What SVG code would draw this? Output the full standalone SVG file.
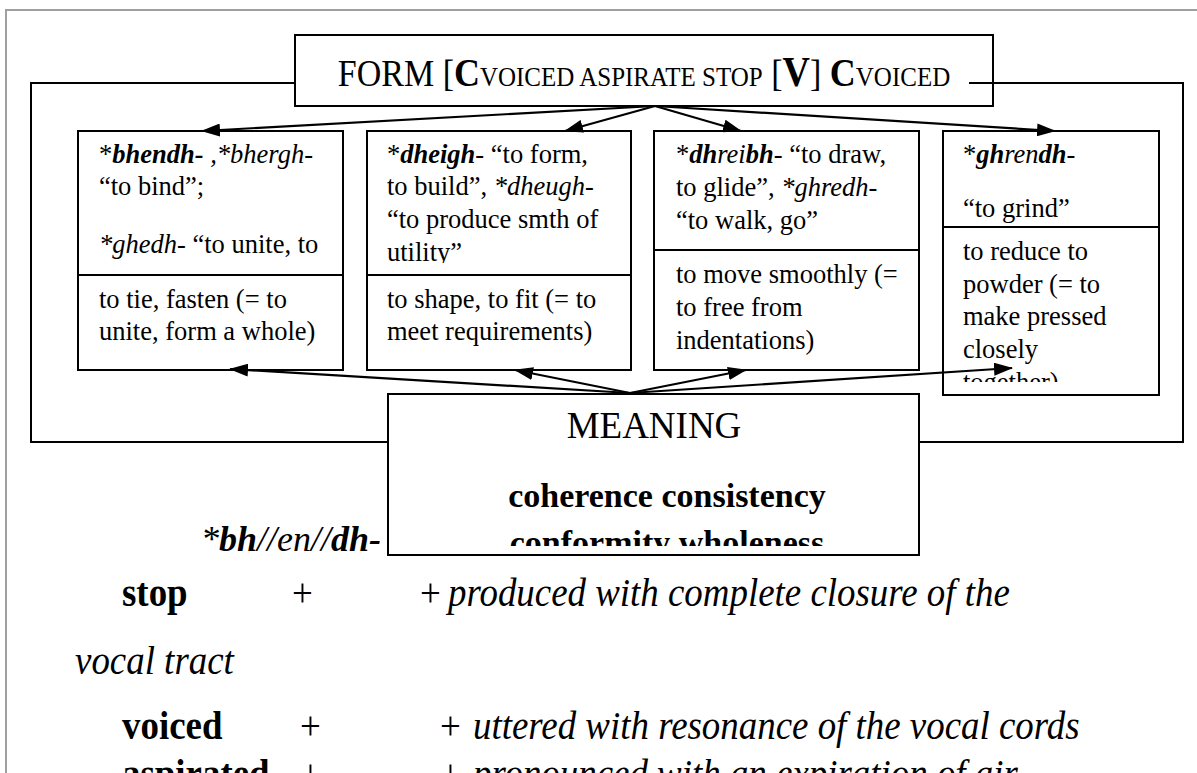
<svg xmlns="http://www.w3.org/2000/svg" width="1197" height="773" viewBox="0 0 1197 773">
  <style>
    .t { font-family: "Liberation Serif", "Times New Roman", serif; fill: #000; }
    .cell { font-size: 26.5px; }
    .box { fill: #fff; stroke: #000; stroke-width: 2; }
    .div { stroke: #000; stroke-width: 2; }
    .frame { fill: none; stroke: #000; stroke-width: 2; }
    .conn { stroke: #000; stroke-width: 2.2; fill: none; marker-end: url(#arrow); }
    .b { font-weight: bold; }
    .i { font-style: italic; }
    .row { font-size: 41px; }
  </style>
  <defs>
    <marker id="arrow" markerUnits="userSpaceOnUse" markerWidth="19" markerHeight="13" viewBox="0 0 19 13" refX="18" refY="6.5" orient="auto">
      <path d="M0,0 L19,6.5 L0,13 z" fill="#000"/>
    </marker>
    <clipPath id="c1a"><rect x="79" y="132" width="263" height="134"/></clipPath>
    <clipPath id="c2a"><rect x="368" y="132" width="262" height="131"/></clipPath>
    <clipPath id="c3a"><rect x="655" y="132" width="263" height="117"/></clipPath>
    <clipPath id="c4a"><rect x="944" y="132" width="214" height="94"/></clipPath>
    <clipPath id="c4b"><rect x="944" y="228" width="214" height="154"/></clipPath>
    <clipPath id="cm"><rect x="389" y="396" width="529" height="150"/></clipPath>
  </defs>

  <!-- page edge -->
  <path d="M6,773 V10 H1197" fill="none" stroke="#a0a0a0" stroke-width="2"/>

  <!-- enclosing frame -->
  <g id="frame">
    <path class="frame" d="M295,83 H31 V442 H388 M919,442 H1183 V83 H969"/>
  </g>

  <!-- form header -->
  <g id="form">
    <rect class="box" x="295" y="35" width="698" height="71"/>
    <path d="M969,83 H993" stroke="#000" stroke-width="2"/>
    <text class="t" x="644" y="86" text-anchor="middle" font-size="34" transform="matrix(1 0 0 1.1 0 -8.6)"><tspan>FORM [</tspan><tspan class="b" font-size="36">C</tspan><tspan font-size="25">VOICED ASPIRATE STOP</tspan><tspan> [</tspan><tspan class="b" font-size="38">V</tspan><tspan>] </tspan><tspan class="b" font-size="36">C</tspan><tspan font-size="25">VOICED</tspan></text>
  </g>

  <!-- root 1 -->
  <g id="root-bhendh">
    <rect class="box" x="78" y="131" width="265" height="239"/>
    <line class="div" x1="78" y1="275" x2="343" y2="275"/>
    <g clip-path="url(#c1a)">
      <text class="t cell" x="99" y="163">*<tspan class="b i">bhendh-</tspan><tspan class="i"> ,*bhergh-</tspan></text>
      <text class="t cell" x="99" y="195">“to bind”;</text>
      <text class="t cell" x="99" y="253"><tspan class="i">*ghedh-</tspan> “to unite, to</text>
    </g>
    <text class="t cell" x="99" y="308">to tie, fasten (= to</text>
    <text class="t cell" x="99" y="340">unite, form a whole)</text>
  </g>

  <!-- root 2 -->
  <g id="root-dheigh">
    <rect class="box" x="367" y="131" width="264" height="239"/>
    <line class="div" x1="367" y1="275" x2="631" y2="275"/>
    <g clip-path="url(#c2a)">
      <text class="t cell" x="387" y="163">*<tspan class="b i">dheigh</tspan>- “to form,</text>
      <text class="t cell" x="387" y="195">to build”, <tspan class="i">*dheugh-</tspan></text>
      <text class="t cell" x="387" y="228">“to produce smth of</text>
      <text class="t cell" x="387" y="261">utility”</text>
    </g>
    <text class="t cell" x="387" y="308">to shape, to fit (= to</text>
    <text class="t cell" x="387" y="340">meet requirements)</text>
  </g>

  <!-- root 3 -->
  <g id="root-dhreibh">
    <rect class="box" x="654" y="131" width="265" height="239"/>
    <line class="div" x1="654" y1="250" x2="919" y2="250"/>
    <g clip-path="url(#c3a)">
      <text class="t cell" x="676" y="163">*<tspan class="b i">dh</tspan><tspan class="i">rei</tspan><tspan class="b i">bh</tspan>- “to draw,</text>
      <text class="t cell" x="676" y="196">to glide”, <tspan class="i">*ghredh-</tspan></text>
      <text class="t cell" x="676" y="229">“to walk, go”</text>
    </g>
    <text class="t cell" x="676" y="283">to move smoothly (=</text>
    <text class="t cell" x="676" y="316">to free from</text>
    <text class="t cell" x="676" y="349">indentations)</text>
  </g>

  <!-- root 4 -->
  <g id="root-ghrendh">
    <rect class="box" x="943" y="131" width="216" height="264"/>
    <line class="div" x1="943" y1="227" x2="1159" y2="227"/>
    <g clip-path="url(#c4a)">
      <text class="t cell" x="963" y="163">*<tspan class="b i">gh</tspan><tspan class="i">ren</tspan><tspan class="b i">dh</tspan>-</text>
      <text class="t cell" x="963" y="217">“to grind”</text>
    </g>
    <g clip-path="url(#c4b)">
      <text class="t cell" x="963" y="260">to reduce to</text>
      <text class="t cell" x="963" y="293">powder (= to</text>
      <text class="t cell" x="963" y="325">make pressed</text>
      <text class="t cell" x="963" y="358">closely</text>
      <text class="t cell" x="963" y="391">together)</text>
    </g>
  </g>

  <!-- meaning -->
  <g id="meaning">
    <rect class="box" x="388" y="394" width="531" height="161"/>
    <text class="t" x="654" y="438" text-anchor="middle" font-size="37">MEANING</text>
    <g clip-path="url(#cm)">
      <text class="t b" x="667" y="507" text-anchor="middle" font-size="34">coherence consistency</text>
      <text class="t b" x="667" y="554" text-anchor="middle" font-size="34">conformity wholeness</text>
    </g>
  </g>

  <!-- connectors -->
  <g id="connectors">
    <line class="conn" x1="655" y1="106" x2="202" y2="131"/>
    <line class="conn" x1="655" y1="106" x2="565" y2="131"/>
    <line class="conn" x1="655" y1="106" x2="741" y2="131"/>
    <line class="conn" x1="655" y1="106" x2="1055" y2="131"/>
    <line class="conn" x1="630" y1="393" x2="230" y2="369"/>
    <line class="conn" x1="630" y1="393" x2="515" y2="370"/>
    <line class="conn" x1="630" y1="393" x2="746" y2="370"/>
    <line class="conn" x1="630" y1="393" x2="1012" y2="368"/>
  </g>

  <!-- feature analysis: rows set in a narrowed face -->
  <g id="analysis">
    <text class="t i" x="201" y="551" font-size="36">*<tspan class="b">bh</tspan>//en//<tspan class="b">dh-</tspan></text>
    <text class="t row b" transform="matrix(0.9 0 0 1 122 606)">stop</text>
    <text class="t row" transform="matrix(0.9 0 0 1 292 606)">+</text>
    <text class="t row" transform="matrix(0.9 0 0 1 420 606)">+</text>
    <text class="t row i" transform="matrix(0.9 0 0 1 448 606)">produced with complete closure of the</text>
    <text class="t row i" transform="matrix(0.9 0 0 1 75 674)">vocal tract</text>
    <text class="t row b" transform="matrix(0.9 0 0 1 122 739)">voiced</text>
    <text class="t row" transform="matrix(0.9 0 0 1 300 739)">+</text>
    <text class="t row" transform="matrix(0.9 0 0 1 440 739)">+</text>
    <text class="t row i" transform="matrix(0.9 0 0 1 473 739)">uttered with resonance of the vocal cords</text>
    <text class="t row b" transform="matrix(0.9 0 0 1 122 787)">aspirated</text>
    <text class="t row" transform="matrix(0.9 0 0 1 300 787)">+</text>
    <text class="t row" transform="matrix(0.9 0 0 1 440 787)">+</text>
    <text class="t row i" transform="matrix(0.9 0 0 1 473 787)">pronounced with an expiration of air</text>
  </g>
</svg>
